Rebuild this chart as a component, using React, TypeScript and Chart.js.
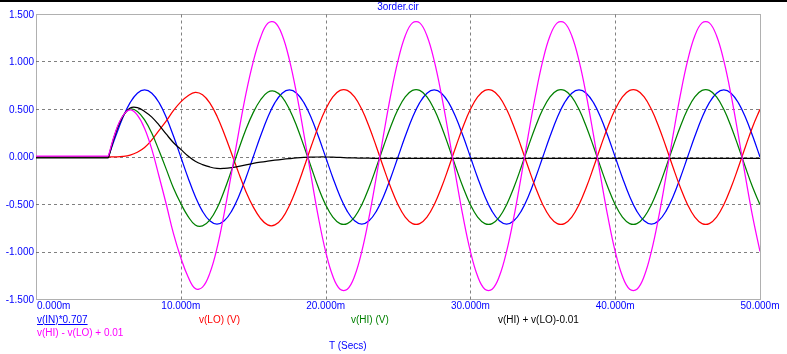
import React, { useEffect, useRef } from 'react';
import { Chart, registerables } from 'chart.js';

Chart.register(...registerables);

// ---- data (time in ms) ----
const timeMs = [
  0,
  5, 5.5, 6, 6.5, 7, 7.5, 8, 8.5, 9, 9.5,
  10, 10.5, 11, 11.5, 12, 12.5, 13, 13.5, 14, 14.5,
  15, 15.5, 16, 16.5, 17, 17.5, 18, 18.5, 19, 19.5,
  20, 20.5, 21, 21.5, 22, 22.5, 23, 23.5, 24, 24.5,
  25, 25.5, 26, 26.5, 27, 27.5, 28, 28.5, 29, 29.5,
  30, 30.5, 31, 31.5, 32, 32.5, 33, 33.5, 34, 34.5,
  35, 35.5, 36, 36.5, 37, 37.5, 38, 38.5, 39, 39.5,
  40, 40.5, 41, 41.5, 42, 42.5, 43, 43.5, 44, 44.5,
  45, 45.5, 46, 46.5, 47, 47.5, 48, 48.5, 49, 49.5,
  50,
];

// v(IN)*0.707 (blue)
const vIn = [
  0,
  0, 0.218, 0.416, 0.572, 0.672, 0.707, 0.672, 0.572, 0.416, 0.218,
  0, -0.218, -0.416, -0.572, -0.672, -0.707, -0.672, -0.572, -0.416, -0.218,
  0, 0.218, 0.416, 0.572, 0.672, 0.707, 0.672, 0.572, 0.416, 0.218,
  0, -0.218, -0.416, -0.572, -0.672, -0.707, -0.672, -0.572, -0.416, -0.218,
  0, 0.218, 0.416, 0.572, 0.672, 0.707, 0.672, 0.572, 0.416, 0.218,
  0, -0.218, -0.416, -0.572, -0.672, -0.707, -0.672, -0.572, -0.416, -0.218,
  0, 0.218, 0.416, 0.572, 0.672, 0.707, 0.672, 0.572, 0.416, 0.218,
  0, -0.218, -0.416, -0.572, -0.672, -0.707, -0.672, -0.572, -0.416, -0.218,
  0, 0.218, 0.416, 0.572, 0.672, 0.707, 0.672, 0.572, 0.416, 0.218,
  0,
];

// v(LO) (V) (red)
const vLo = [
  0,
  0, 0.001, 0.006, 0.02, 0.05, 0.1, 0.18, 0.28, 0.38, 0.49,
  0.58, 0.645, 0.68, 0.655, 0.57, 0.43, 0.245, 0.04, -0.17, -0.365,
  -0.525, -0.645, -0.715, -0.715, -0.645, -0.51, -0.327, -0.113, 0.11, 0.322,
  0.502, 0.633, 0.701, 0.701, 0.633, 0.502, 0.322, 0.111, -0.111, -0.322,
  -0.502, -0.633, -0.701, -0.701, -0.633, -0.502, -0.322, -0.111, 0.111, 0.322,
  0.502, 0.633, 0.701, 0.701, 0.633, 0.502, 0.322, 0.111, -0.111, -0.322,
  -0.502, -0.633, -0.701, -0.701, -0.633, -0.502, -0.322, -0.111, 0.111, 0.322,
  0.502, 0.633, 0.701, 0.701, 0.633, 0.502, 0.322, 0.111, -0.111, -0.322,
  -0.502, -0.633, -0.701, -0.701, -0.633, -0.502, -0.322, -0.111, 0.111, 0.322,
  0.502,
];

// v(HI) (V) (green)
const vHi = [
  0,
  0, 0.26, 0.43, 0.505, 0.48, 0.39, 0.25, 0.065, -0.13, -0.33,
  -0.49, -0.625, -0.715, -0.725, -0.665, -0.54, -0.355, -0.142, 0.082, 0.292,
  0.467, 0.6, 0.681, 0.691, 0.63, 0.503, 0.327, 0.115, -0.105, -0.322,
  -0.502, -0.633, -0.701, -0.701, -0.633, -0.502, -0.322, -0.111, 0.111, 0.322,
  0.502, 0.633, 0.701, 0.701, 0.633, 0.502, 0.322, 0.111, -0.111, -0.322,
  -0.502, -0.633, -0.701, -0.701, -0.633, -0.502, -0.322, -0.111, 0.111, 0.322,
  0.502, 0.633, 0.701, 0.701, 0.633, 0.502, 0.322, 0.111, -0.111, -0.322,
  -0.502, -0.633, -0.701, -0.701, -0.633, -0.502, -0.322, -0.111, 0.111, 0.322,
  0.502, 0.633, 0.701, 0.701, 0.633, 0.502, 0.322, 0.111, -0.111, -0.322,
  -0.502,
];

// v(HI) + v(LO)-0.01 (black)
const vSum = [
  -0.01,
  -0.01, 0.251, 0.426, 0.515, 0.52, 0.48, 0.42, 0.335, 0.24, 0.15,
  0.08, 0.01, -0.045, -0.08, -0.105, -0.12, -0.12, -0.112, -0.098, -0.083,
  -0.068, -0.055, -0.044, -0.034, -0.025, -0.017, -0.01, -0.005, -0.002, 0,
  0, -0.002, -0.005, -0.008, -0.01, -0.012, -0.013, -0.014, -0.015, -0.015,
  -0.015, -0.015, -0.015, -0.015, -0.015, -0.015, -0.015, -0.015, -0.015, -0.015,
  -0.015, -0.015, -0.015, -0.015, -0.015, -0.015, -0.015, -0.015, -0.015, -0.015,
  -0.015, -0.015, -0.015, -0.015, -0.015, -0.015, -0.015, -0.015, -0.015, -0.015,
  -0.015, -0.015, -0.015, -0.015, -0.015, -0.015, -0.015, -0.015, -0.015, -0.015,
  -0.015, -0.015, -0.015, -0.015, -0.015, -0.015, -0.015, -0.015, -0.015, -0.015,
  -0.015,
];

// v(HI) - v(LO) + 0.01 (magenta)
const vDiff = [
  0.01,
  0.01, 0.269, 0.434, 0.495, 0.44, 0.3, 0.08, -0.205, -0.5, -0.81,
  -1.06, -1.26, -1.385, -1.37, -1.225, -0.96, -0.59, -0.172, 0.262, 0.667,
  1.002, 1.255, 1.406, 1.416, 1.285, 1.023, 0.664, 0.241, -0.202, -0.634,
  -0.994, -1.256, -1.392, -1.392, -1.256, -0.994, -0.634, -0.212, 0.232, 0.654,
  1.014, 1.276, 1.412, 1.412, 1.276, 1.014, 0.654, 0.232, -0.212, -0.634,
  -0.994, -1.256, -1.392, -1.392, -1.256, -0.994, -0.634, -0.212, 0.232, 0.654,
  1.014, 1.276, 1.412, 1.412, 1.276, 1.014, 0.654, 0.232, -0.212, -0.634,
  -0.994, -1.256, -1.392, -1.392, -1.256, -0.994, -0.634, -0.212, 0.232, 0.654,
  1.014, 1.276, 1.412, 1.412, 1.276, 1.014, 0.654, 0.232, -0.212, -0.634,
  -0.994,
];

const ONSET_INDEX = 1; // index of t = 5 ms, where the source switches on

const xTickValues = [0, 10, 20, 30, 40, 50];
const xTickLabels = ['0.000m', '10.000m', '20.000m', '30.000m', '40.000m', '50.000m'];
const yTickValues = [1.5, 1, 0.5, 0, -0.5, -1, -1.5];
const yTickLabels = ['1.500', '1.000', '0.500', '0.000', '-0.500', '-1.000', '-1.500'];

const chartTitle = '3order.cir';
const xAxisTitle = 'T (Secs)';

const series = [
  { label: 'v(HI) - v(LO) + 0.01', values: vDiff, color: '#ff00ff' },
  { label: 'v(HI) + v(LO)-0.01', values: vSum, color: '#000000' },
  { label: 'v(HI) (V)', values: vHi, color: '#008000' },
  { label: 'v(LO) (V)', values: vLo, color: '#ff0000' },
  { label: 'v(IN)*0.707', values: vIn, color: '#0000ff' },
];

const FONT_FAMILY = '"Liberation Sans", Arial, Helvetica, sans-serif';
const AXIS_BLUE = '#0000ff';

function points(from: number, to: number, ys: number[]) {
  const out: { x: number; y: number }[] = [];
  for (let i = from; i <= to; i++) out.push({ x: timeMs[i], y: ys[i] });
  return out;
}

const gridAndLabels = {
  id: 'gridAndLabels',
  beforeDatasetsDraw(chart: any) {
    const { ctx, chartArea: a } = chart;
    const xs = chart.scales.x;
    const ys = chart.scales.y;
    ctx.save();
    ctx.lineWidth = 1;
    ctx.strokeStyle = '#808080';
    ctx.setLineDash([3, 3]);
    xTickValues.forEach((v) => {
      if (v <= xTickValues[0] || v >= xTickValues[xTickValues.length - 1]) return;
      const px = Math.round(xs.getPixelForValue(v)) + 0.5;
      ctx.beginPath();
      ctx.moveTo(px, a.top);
      ctx.lineTo(px, a.bottom);
      ctx.stroke();
    });
    yTickValues.forEach((v) => {
      if (v >= 1.5 || v <= -1.5) return;
      const py = Math.floor(ys.getPixelForValue(v)) + 0.5;
      ctx.beginPath();
      ctx.moveTo(a.left, py);
      ctx.lineTo(a.right, py);
      ctx.stroke();
    });
    ctx.setLineDash([1, 1]);
    ctx.strokeStyle = '#606060';
    const l = Math.round(a.left) + 0.5;
    const r = Math.round(a.right) + 0.5;
    const t = Math.floor(a.top) + 0.5;
    const b = Math.floor(a.bottom) + 0.5;
    ctx.strokeRect(l, t, r - l, b - t);
    ctx.restore();
  },
  afterDraw(chart: any) {
    const { ctx, chartArea: a } = chart;
    const xs = chart.scales.x;
    const ys = chart.scales.y;
    ctx.save();
    ctx.font = `10px ${FONT_FAMILY}`;
    ctx.fillStyle = AXIS_BLUE;
    ctx.textBaseline = 'middle';
    ctx.textAlign = 'right';
    yTickValues.forEach((v, i) => {
      ctx.fillText(yTickLabels[i], a.left - 2, ys.getPixelForValue(v) + 0.5);
    });
    xTickValues.forEach((v, i) => {
      if (i === 0) {
        ctx.textAlign = 'left';
        ctx.fillText(xTickLabels[i], xs.getPixelForValue(v) + 1, a.bottom + 7);
      } else {
        ctx.textAlign = 'center';
        ctx.fillText(xTickLabels[i], xs.getPixelForValue(v), a.bottom + 7);
      }
    });
    ctx.restore();
  },
};

export default function App() {
  const canvasRef = useRef<HTMLCanvasElement | null>(null);

  useEffect(() => {
    if (!canvasRef.current) return;
    const datasets: any[] = [];
    series.forEach((s) => {
      datasets.push({
        label: s.label,
        data: points(0, ONSET_INDEX, s.values),
        borderColor: s.color,
        borderWidth: 1.25,
        pointRadius: 0,
        tension: 0,
        fill: false,
      });
      datasets.push({
        label: s.label,
        data: points(ONSET_INDEX, timeMs.length - 1, s.values),
        borderColor: s.color,
        borderWidth: 1.25,
        pointRadius: 0,
        tension: 0.4,
        fill: false,
      });
    });
    const chart = new Chart(canvasRef.current, {
      type: 'line',
      data: { datasets },
      options: {
        animation: false,
        responsive: false,
        devicePixelRatio: 1,
        parsing: false,
        normalized: true,
        layout: { padding: { left: 36, right: 27, top: 14.5, bottom: 54.5 } },
        plugins: {
          legend: { display: false },
          title: { display: false },
          tooltip: { enabled: false },
        },
        events: [],
        scales: {
          x: { type: 'linear', min: 0, max: 50, display: false },
          y: { type: 'linear', min: -1.5, max: 1.5, display: false },
        },
      },
      plugins: [gridAndLabels],
    });
    return () => chart.destroy();
  }, []);

  const text = (content: string, left: number, top: number, color: string, extra: any = {}) => (
    <div
      style={{
        position: 'absolute',
        left,
        top,
        color,
        font: `10px ${FONT_FAMILY}`,
        lineHeight: '12px',
        whiteSpace: 'nowrap',
        ...extra,
      }}
    >
      {content}
    </div>
  );

  return (
    <div
      style={{
        position: 'absolute',
        left: 0,
        top: 0,
        width: 787,
        height: 354,
        background: '#ffffff',
        overflow: 'hidden',
      }}
    >
      <canvas ref={canvasRef} width={787} height={354} style={{ position: 'absolute', left: 0, top: 0, width: 787, height: 354 }} />
      <div style={{ position: 'absolute', left: 0, top: 0, width: 787, height: 2, background: '#000' }} />
      {text(chartTitle, 0, 1, AXIS_BLUE, { width: 796, textAlign: 'center' })}
      {text(series[4].label, 37, 313.5, '#0000ff', { textDecoration: 'underline' })}
      {text(series[3].label, 199, 313.5, '#ff0000')}
      {text(series[2].label, 351, 313.5, '#008000')}
      {text(series[1].label, 498, 313.5, '#000000')}
      {text(series[0].label, 37, 326.5, '#ff00ff')}
      {text(xAxisTitle, 329, 339.5, AXIS_BLUE)}
    </div>
  );
}
